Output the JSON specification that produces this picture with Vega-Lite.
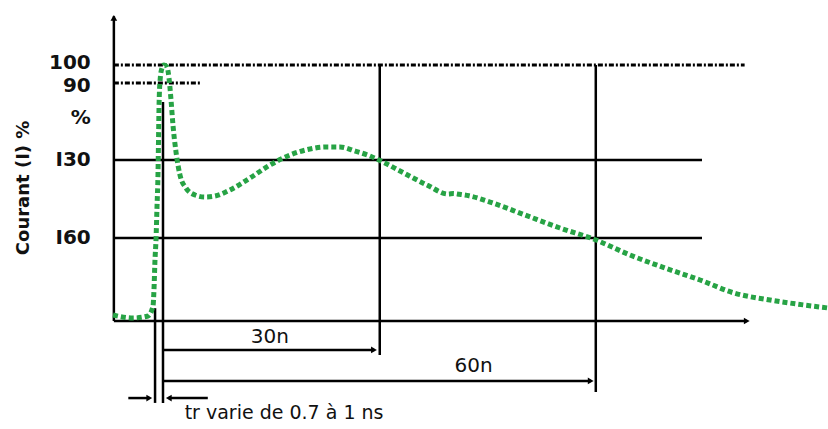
{
  "$schema": "https://vega.github.io/schema/vega-lite/v6.json",
  "width": 828,
  "height": 429,
  "padding": 0,
  "autosize": {"type": "none"},
  "background": "white",
  "config": {"view": {"stroke": null}},
  "datasets": {
    "curve": [
      {"i": 0, "t": -6.92, "v": 2.34}, {"i": 1, "t": -4.15, "v": 1.17}, {"i": 2, "t": -2.08, "v": 1.95},
      {"i": 3, "t": -1.38, "v": 5.86}, {"i": 4, "t": -1.25, "v": 12.11}, {"i": 5, "t": -1.11, "v": 23.83},
      {"i": 6, "t": -0.97, "v": 31.64}, {"i": 7, "t": -0.83, "v": 44.53}, {"i": 8, "t": -0.69, "v": 57.81},
      {"i": 9, "t": -0.62, "v": 70.7}, {"i": 10, "t": -0.55, "v": 83.59}, {"i": 11, "t": -0.42, "v": 93.36},
      {"i": 12, "t": -0.14, "v": 98.83}, {"i": 13, "t": 0.14, "v": 100}, {"i": 14, "t": 0.55, "v": 99.22},
      {"i": 15, "t": 0.83, "v": 94.92}, {"i": 16, "t": 1.11, "v": 86.33}, {"i": 17, "t": 1.38, "v": 76.56},
      {"i": 18, "t": 1.8, "v": 66.02}, {"i": 19, "t": 2.35, "v": 57.03}, {"i": 20, "t": 3.18, "v": 51.95},
      {"i": 21, "t": 4.43, "v": 49.22}, {"i": 22, "t": 5.81, "v": 48.44}, {"i": 23, "t": 7.2, "v": 48.83},
      {"i": 24, "t": 9.27, "v": 51.17}, {"i": 25, "t": 12.04, "v": 55.86}, {"i": 26, "t": 14.81, "v": 60.94},
      {"i": 27, "t": 17.58, "v": 64.84}, {"i": 28, "t": 20.35, "v": 67.19}, {"i": 29, "t": 22.42, "v": 67.97},
      {"i": 30, "t": 24.5, "v": 67.97}, {"i": 31, "t": 26.57, "v": 66.41}, {"i": 32, "t": 28.65, "v": 64.45},
      {"i": 33, "t": 30.17, "v": 62.5}, {"i": 34, "t": 33.08, "v": 58.2}, {"i": 35, "t": 36.54, "v": 53.13},
      {"i": 36, "t": 39.45, "v": 49.6}, {"i": 37, "t": 40.2, "v": 49.8}, {"i": 38, "t": 41.0, "v": 49.5},
      {"i": 39, "t": 42.35, "v": 48.9}, {"i": 40, "t": 45.26, "v": 46.48}, {"i": 41, "t": 50.1, "v": 41.41},
      {"i": 42, "t": 54.95, "v": 36.33}, {"i": 43, "t": 59.93, "v": 31.64}, {"i": 44, "t": 64.64, "v": 25.78},
      {"i": 45, "t": 69.48, "v": 20.7}, {"i": 46, "t": 74.33, "v": 16.02}, {"i": 47, "t": 79.03, "v": 10.94},
      {"i": 48, "t": 84.01, "v": 8.2}, {"i": 49, "t": 88.72, "v": 6.25}, {"i": 50, "t": 92.04, "v": 5.08}
    ],
    "rules": [
      {"x": -6.8, "x2": -6.8, "y": 0, "y2": 119},
      {"x": -6.8, "x2": 80.5, "y": 0, "y2": 0},
      {"x": -6.8, "x2": 74.6, "y": 62.9, "y2": 62.9},
      {"x": -6.8, "x2": 74.6, "y": 32.4, "y2": 32.4},
      {"x": 30.0, "x2": 30.0, "y": -13.3, "y2": 100},
      {"x": 59.9, "x2": 59.9, "y": -27.7, "y2": 100},
      {"x": 0, "x2": 0, "y": -32, "y2": 85.5},
      {"x": -1.1, "x2": -1.1, "y": -32, "y2": 5},
      {"x": 0, "x2": 29, "y": -11.3, "y2": -11.3},
      {"x": 0, "x2": 59, "y": -23.4, "y2": -23.4},
      {"x": -4.8, "x2": -1.9, "y": -30.1, "y2": -30.1},
      {"x": 0.8, "x2": 6.2, "y": -30.1, "y2": -30.1}
    ],
    "dots": [
      {"x": -6.8, "x2": 80.5, "y": 100, "y2": 100},
      {"x": -6.8, "x2": 5.1, "y": 93, "y2": 93}
    ],
    "arrows": [
      {"x": -6.8, "y": 118.4, "dir": "up"},
      {"x": 80.8, "y": 0, "dir": "right"},
      {"x": 29.2, "y": -11.3, "dir": "right"},
      {"x": 59.2, "y": -23.4, "dir": "right"},
      {"x": -1.9, "y": -30.1, "dir": "right"},
      {"x": 0.8, "y": -30.1, "dir": "left"}
    ],
    "ylabels": [
      {"x": -10.0, "y": 100.8, "text": "100"},
      {"x": -10.0, "y": 91.8, "text": "90"},
      {"x": -10.0, "y": 79.3, "text": "%"},
      {"x": -10.0, "y": 62.9, "text": "I30"},
      {"x": -10.0, "y": 32.4, "text": "I60"}
    ],
    "title": [{"x": -19.2, "y": 52, "text": "Courant (I) %"}],
    "dims": [
      {"x": 14.8, "y": -6.3, "text": "30n"},
      {"x": 43.0, "y": -17.6, "text": "60n"}
    ],
    "note": [{"x": 3.0, "y": -36.0, "text": "tr varie de 0.7 à 1 ns"}]
  },
  "layer": [
    {
      "data": {"name": "dots"},
      "mark": {"type": "rule", "color": "black", "strokeWidth": 3, "strokeDash": [5, 2, 2, 2]},
      "encoding": {
        "x": {"field": "x", "type": "quantitative", "scale": {"domain": [-22.56, 92.04], "nice": false, "zero": false}, "axis": null},
        "x2": {"field": "x2"},
        "y": {"field": "y", "type": "quantitative", "scale": {"domain": [-42.19, 125.39], "nice": false, "zero": false}, "axis": null},
        "y2": {"field": "y2"}
      }
    },
    {
      "data": {"name": "rules"},
      "mark": {"type": "rule", "color": "black", "strokeWidth": 2.5},
      "encoding": {
        "x": {"field": "x", "type": "quantitative", "scale": {"domain": [-22.56, 92.04], "nice": false, "zero": false}, "axis": null},
        "x2": {"field": "x2"},
        "y": {"field": "y", "type": "quantitative", "scale": {"domain": [-42.19, 125.39], "nice": false, "zero": false}, "axis": null},
        "y2": {"field": "y2"}
      }
    },
    {
      "data": {"name": "curve"},
      "mark": {"type": "line", "color": "#27a345", "strokeWidth": 5, "strokeDash": [5, 3], "interpolate": "monotone", "clip": true},
      "encoding": {
        "x": {"field": "t", "type": "quantitative", "scale": {"domain": [-22.56, 92.04], "nice": false, "zero": false}, "axis": null},
        "y": {"field": "v", "type": "quantitative", "scale": {"domain": [-42.19, 125.39], "nice": false, "zero": false}, "axis": null},
        "order": {"field": "i", "type": "quantitative"}
      }
    },
    {
      "data": {"name": "arrows"},
      "mark": {"type": "point", "filled": true, "color": "black", "size": 45, "opacity": 1},
      "encoding": {
        "x": {"field": "x", "type": "quantitative", "scale": {"domain": [-22.56, 92.04], "nice": false, "zero": false}, "axis": null},
        "y": {"field": "y", "type": "quantitative", "scale": {"domain": [-42.19, 125.39], "nice": false, "zero": false}, "axis": null},
        "shape": {"field": "dir", "type": "nominal", "scale": {"domain": ["up", "right", "left"], "range": ["triangle-up", "triangle-right", "triangle-left"]}, "legend": null}
      }
    },
    {
      "data": {"name": "ylabels"},
      "mark": {"type": "text", "font": "DejaVu Sans", "fontWeight": "bold", "fontSize": 20, "align": "right", "baseline": "middle", "color": "#111"},
      "encoding": {
        "x": {"field": "x", "type": "quantitative", "scale": {"domain": [-22.56, 92.04], "nice": false, "zero": false}, "axis": null},
        "y": {"field": "y", "type": "quantitative", "scale": {"domain": [-42.19, 125.39], "nice": false, "zero": false}, "axis": null},
        "text": {"field": "text"}
      }
    },
    {
      "data": {"name": "title"},
      "mark": {"type": "text", "font": "DejaVu Sans", "fontWeight": "bold", "fontSize": 18, "align": "center", "baseline": "middle", "angle": 270, "color": "#111"},
      "encoding": {
        "x": {"field": "x", "type": "quantitative", "scale": {"domain": [-22.56, 92.04], "nice": false, "zero": false}, "axis": null},
        "y": {"field": "y", "type": "quantitative", "scale": {"domain": [-42.19, 125.39], "nice": false, "zero": false}, "axis": null},
        "text": {"field": "text"}
      }
    },
    {
      "data": {"name": "dims"},
      "mark": {"type": "text", "font": "DejaVu Sans", "fontSize": 20, "align": "center", "baseline": "middle", "color": "#111"},
      "encoding": {
        "x": {"field": "x", "type": "quantitative", "scale": {"domain": [-22.56, 92.04], "nice": false, "zero": false}, "axis": null},
        "y": {"field": "y", "type": "quantitative", "scale": {"domain": [-42.19, 125.39], "nice": false, "zero": false}, "axis": null},
        "text": {"field": "text"}
      }
    },
    {
      "data": {"name": "note"},
      "mark": {"type": "text", "font": "DejaVu Sans", "fontSize": 19, "align": "left", "baseline": "middle", "color": "#111"},
      "encoding": {
        "x": {"field": "x", "type": "quantitative", "scale": {"domain": [-22.56, 92.04], "nice": false, "zero": false}, "axis": null},
        "y": {"field": "y", "type": "quantitative", "scale": {"domain": [-42.19, 125.39], "nice": false, "zero": false}, "axis": null},
        "text": {"field": "text"}
      }
    }
  ]
}
